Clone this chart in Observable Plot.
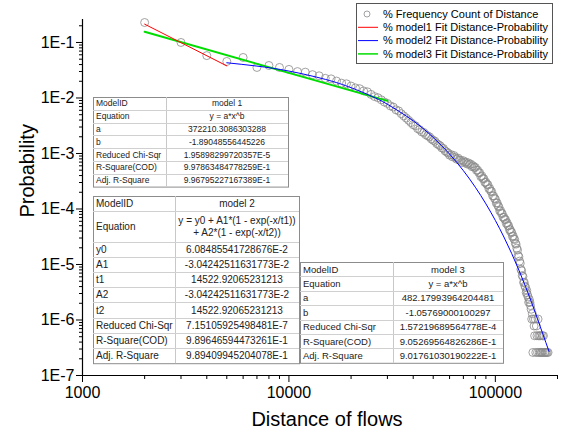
<!DOCTYPE html>
<html><head><meta charset="utf-8">
<script src="https://cdn.jsdelivr.net/npm/d3@7"></script>
<script src="https://cdn.jsdelivr.net/npm/@observablehq/plot@0.6"></script>
<style>
body{margin:0;background:#fff;}
#chart{width:562px;height:433px;position:relative;}
</style></head><body><div id="chart"></div>
<script>
// ---- data ----
const distance = [2000,3000,4000,5000,6000,7000,8000,9000,
10000,11000,12000,13000,14000,15000,16000,17000,18000,19000,
20000,21000,22000,23000,24000,25000,26000,27000,28000,29000,
30000,31000,32000,33000,34000,35000,36000,37000,38000,39000,
40000,41000,42000,43000,44000,45000,46000,47000,48000,49000,
50000,51000,52000,53000,54000,55000,56000,57000,58000,59000,
60000,61000,62000,63000,64000,65000,66000,67000,68000,69000,
70000,71000,72000,73000,74000,75000,76000,77000,78000,79000,
80000,81000,82000,83000,84000,85000,86000,87000,88000,89000,
90000,91000,92000,93000,94000,95000,96000,97000,98000,99000,
100000,101000,102000,103000,104000,105000,106000,107000,108000,109000,
110000,111000,112000,113000,114000,115000,116000,117000,118000,119000,
120000,121000,122000,123000,124000,125000,126000,127000,128000,129000,
130000,131000,132000,133000,134000,135000,136000,137000,138000,139000,
140000,141000,142000,143000,144000,145000,146000,147000,148000,149000,
150000,151000,152000,153000,154000,155000,156000,157000,158000,159000,
160000,161000,162000,163000,164000,165000,166000,167000,168000,169000,
170000,171000,173000,174000,176000,178000,180000];
const probability = [0.229,0.1,0.058,0.0455,0.0537,0.0355,0.0385,0.0355,
0.0327,0.0299,0.0292,0.0263,0.0251,0.0226,0.0221,0.0202,0.0185,0.0180,
0.0164,0.0152,0.0147,0.0134,0.0129,0.0116,0.0106,0.0101,0.00927,0.00845,
0.00798,0.00719,0.00687,0.00612,0.00585,0.00521,0.00475,0.00434,0.00396,0.00361,
0.00330,0.00315,0.00281,0.00268,0.00244,0.00239,0.00218,0.00208,0.00199,0.00182,
0.00173,0.00166,0.00151,0.00144,0.00138,0.00126,0.00123,0.00112,0.00107,0.00102,
9.33e-4,9.55e-4,8.69e-4,9.18e-4,8.47e-4,7.89e-4,8.24e-4,7.59e-4,7.55e-4,6.90e-4,
7.40e-4,6.90e-4,7.00e-4,6.46e-4,6.76e-4,6.30e-4,6.44e-4,5.79e-4,6.00e-4,5.62e-4,
5.61e-4,4.99e-4,5.02e-4,4.55e-4,4.48e-4,3.83e-4,3.94e-4,3.55e-4,3.50e-4,3.01e-4,
3.03e-4,2.79e-4,2.73e-4,2.32e-4,2.34e-4,2.10e-4,2.05e-4,1.73e-4,1.72e-4,1.56e-4,
1.51e-4,1.28e-4,1.29e-4,1.14e-4,1.09e-4,9.23e-5,9.35e-5,8.39e-5,8.24e-5,7.06e-5,
7.11e-5,6.53e-5,6.41e-5,5.48e-5,5.64e-5,5.05e-5,4.95e-5,4.24e-5,4.26e-5,3.87e-5,
3.78e-5,3.20e-5,3.27e-5,2.90e-5,2.82e-5,2.40e-5,2.33e-5,1.97e-5,1.82e-5,1.45e-5,
1.38e-5,1.15e-5,1.05e-5,8.18e-6,7.71e-6,6.31e-6,6.07e-6,4.74e-6,4.78e-6,4.09e-6,
3.90e-6,3.12e-6,3.38e-6,2.86e-6,2.60e-6,2.08e-6,2.34e-6,2.08e-6,1.82e-6,1.56e-6,
1.04e-6,1.30e-6,2.6e-7,1.04e-6,7.8e-7,5.2e-7,1.04e-6,2.6e-7,7.8e-7,5.2e-7,
2.6e-7,1.04e-6,5.2e-7,2.6e-7,5.2e-7,2.6e-7,5.2e-7,2.6e-7,2.6e-7,5.2e-7,
2.6e-7,5.2e-7,2.6e-7,2.6e-7,2.6e-7,2.6e-7,2.6e-7];

const model1X = [2000, 5000];
const model1Y = [0.2139, 0.03785];
const model2X = [5000,7000,10000,15000,20000,25000,30000,40000,50000,60000,70000,80000,90000,100000,110000,120000,130000,140000,150000,160000,170000,182000];
const model2Y = [0.0431,0.03755,0.03054,0.02165,0.01534,0.01087,0.007705,0.00387,0.001944,9.76e-4,4.905e-4,2.464e-4,1.2375e-4,6.22e-5,3.128e-5,1.574e-5,7.93e-6,4.01e-6,2.04e-6,1.05e-6,5.54e-7,2.71e-7];
const model3X = [2000, 30000];
const model3Y = [0.1555, 0.008868];

const xTicks = [1000, 10000, 100000];
const xTickLabels = ["1000", "10000", "100000"];
const yTicks = [1e-1, 1e-2, 1e-3, 1e-4, 1e-5, 1e-6, 1e-7];
const yTickLabels = ["1E-1", "1E-2", "1E-3", "1E-4", "1E-5", "1E-6", "1E-7"];
const xTitle = "Distance of flows";
const yTitle = "Probability";

const legendLabels = ["% Frequency Count of Distance", "% model1 Fit Distance-Probability", "% model2 Fit Distance-Probability", "% model3 Fit Distance-Probability"];

const table1Labels = ["ModelID","Equation","a","b","Reduced Chi-Sqr","R-Square(COD)","Adj. R-Square"];
const table1Values = ["model 1","y = a*x^b","372210.3086303288","-1.89048556445226","1.95898299720357E-5","9.97863484778259E-1","9.96795227167389E-1"];
const table2Labels = ["ModelID","Equation","y0","A1","t1","A2","t2","Reduced Chi-Sqr","R-Square(COD)","Adj. R-Square"];
const table2Values = ["model 2",["y = y0 + A1*(1 - exp(-x/t1))","+ A2*(1 - exp(-x/t2))"],"6.08485541728676E-2","-3.04242511631773E-2","14522.92065231213","-3.04242511631773E-2","14522.92065231213","7.15105925498481E-7","9.89646594473261E-1","9.89409945204078E-1"];
const table3Labels = ["ModelID","Equation","a","b","Reduced Chi-Sqr","R-Square(COD)","Adj. R-Square"];
const table3Values = ["model 3","y = a*x^b","482.17993964204481","-1.05769000100297","1.57219689564778E-4","9.05269564826286E-1","9.01761030190222E-1"];

// ---- build ----
const font = "'Liberation Sans', Arial, sans-serif";
const pts = distance.map((d, i) => ({x: d, y: probability[i]}));
const m1 = model1X.map((d, i) => ({x: d, y: model1Y[i]}));
const m2 = model2X.map((d, i) => ({x: d, y: model2Y[i]}));
const m3 = model3X.map((d, i) => ({x: d, y: model3Y[i]}));
const xDomain = [1000, 200000];
const yDomain = [1e-7, 0.2594];
const xMinor = [];
for (const p of [1000, 10000]) for (let k = 2; k <= 9; k++) xMinor.push(k * p);
xMinor.push(200000);
const yMinor = [];
for (const p of [1e-7, 1e-6, 1e-5, 1e-4, 1e-3, 1e-2]) for (let k = 2; k <= 9; k++) yMinor.push(k * p);
yMinor.push(0.2);

const svg = Plot.plot({
  width: 562, height: 433,
  marginLeft: 82, marginRight: 5, marginTop: 19, marginBottom: 58,
  style: {fontFamily: font, background: "white", color: "black", overflow: "visible"},
  x: {type: "log", domain: xDomain, label: null},
  y: {type: "log", domain: yDomain, label: null},
  marks: [
    Plot.axisX(xMinor, {tickSize: 4, tickFormat: () => "", label: null, stroke: "black"}),
    Plot.axisX(xTicks, {tickSize: 7, tickPadding: 4, tickFormat: d => xTickLabels[xTicks.indexOf(d)], fontSize: 16, label: null, stroke: "black", fill: "black"}),
    Plot.axisY(yMinor, {tickSize: 3, tickFormat: () => "", label: null, stroke: "black"}),
    Plot.axisY(yTicks, {tickSize: 6, tickPadding: 2, tickFormat: d => yTickLabels[yTicks.indexOf(d)], fontSize: 16, label: null, stroke: "black", fill: "black"}),
    Plot.ruleY([yDomain[0]], {x1: xDomain[0], x2: xDomain[1], stroke: "black", strokeWidth: 1.2}),
    Plot.ruleX([xDomain[0]], {y1: yDomain[0], y2: yDomain[1], stroke: "black", strokeWidth: 1.2}),
    Plot.dot(pts, {x: "x", y: "y", r: 4, stroke: "#8a8a8a", strokeWidth: 0.8, fill: "none"}),
    Plot.line(m3, {x: "x", y: "y", stroke: "#00dd00", strokeWidth: 2}),
    Plot.line(m1, {x: "x", y: "y", stroke: "#ff0000", strokeWidth: 1}),
    Plot.line(m2, {x: "x", y: "y", stroke: "#0000ff", strokeWidth: 1, curve: "natural"}),
    Plot.text([yTitle], {frameAnchor: "left", dx: -55, dy: 20, rotate: -90, fontSize: 20, fill: "black"}),
    Plot.text([xTitle], {frameAnchor: "bottom", dx: 7, dy: 50, fontSize: 20, fill: "black"})
  ]
});
document.getElementById("chart").appendChild(svg);

// ---- annotations: legend and tables ----
const root = d3.select(svg);
const lg = root.append("g").attr("font-family", font).attr("font-size", 11).attr("text-anchor", "start");
lg.append("rect").attr("x", 356.5).attr("y", 3.5).attr("width", 196).attr("height", 60)
  .attr("fill", "white").attr("stroke", "#555").attr("stroke-width", 1);
const legendColors = [null, "#ff0000", "#0000ff", "#00dd00"];
legendLabels.forEach((t, i) => {
  const cy = 14 + i * 13.3;
  if (i === 0) lg.append("circle").attr("cx", 367).attr("cy", cy).attr("r", 3).attr("fill", "none").attr("stroke", "#8a8a8a").attr("stroke-width", 0.8);
  else lg.append("line").attr("x1", 358).attr("x2", 378).attr("y1", cy).attr("y2", cy).attr("stroke", legendColors[i]).attr("stroke-width", i === 3 ? 1.5 : 1);
  lg.append("text").attr("x", 383).attr("y", cy).attr("dy", "0.35em").attr("fill", "black").attr("text-anchor", "start").text(t);
});

function drawTable(x0, xs, x1, y0, units, unitH, labels, values, fs) {
  const g = root.append("g").attr("font-family", font).attr("font-size", fs).attr("fill", "#222").attr("text-anchor", "start");
  const totalH = units.reduce((a, b) => a + b, 0) * unitH;
  g.append("rect").attr("x", x0 + 0.5).attr("y", y0 + 0.5).attr("width", x1 - x0).attr("height", totalH)
    .attr("fill", "white").attr("stroke", "#8c8c8c").attr("stroke-width", 1);
  g.append("line").attr("x1", xs + 0.5).attr("x2", xs + 0.5).attr("y1", y0).attr("y2", y0 + totalH)
    .attr("stroke", "#c8c8c8").attr("stroke-width", 1);
  let y = y0;
  labels.forEach((lab, i) => {
    const h = units[i] * unitH;
    if (i > 0) g.append("line").attr("x1", x0).attr("x2", x1).attr("y1", Math.round(y) + 0.5).attr("y2", Math.round(y) + 0.5)
      .attr("stroke", "#d0d0d0").attr("stroke-width", 1);
    const cy = y + h / 2;
    g.append("text").attr("x", x0 + 3).attr("y", cy).attr("dy", "0.35em").attr("text-anchor", "start").text(lab);
    const v = values[i];
    if (Array.isArray(v)) {
      v.forEach((line, j) => {
        g.append("text").attr("x", (xs + x1) / 2).attr("y", cy + (j - (v.length - 1) / 2) * fs * 1.15)
          .attr("dy", "0.35em").attr("text-anchor", "middle").text(line);
      });
    } else {
      g.append("text").attr("x", (xs + x1) / 2).attr("y", cy).attr("dy", "0.35em").attr("text-anchor", "middle").text(v);
    }
    y += h;
  });
}
drawTable(93, 166, 288, 97, [1,1,1,1,1,1,1], 12.8, table1Labels, table1Values, 8.5);
drawTable(93, 175, 299, 196, [1,2,1,1,1,1,1,1,1,1], 15.2, table2Labels, table2Values, 10);
drawTable(300, 393, 503, 262, [1,1,1,1,1,1,1], 14.4, table3Labels, table3Values, 9.5);
</script></body></html>
